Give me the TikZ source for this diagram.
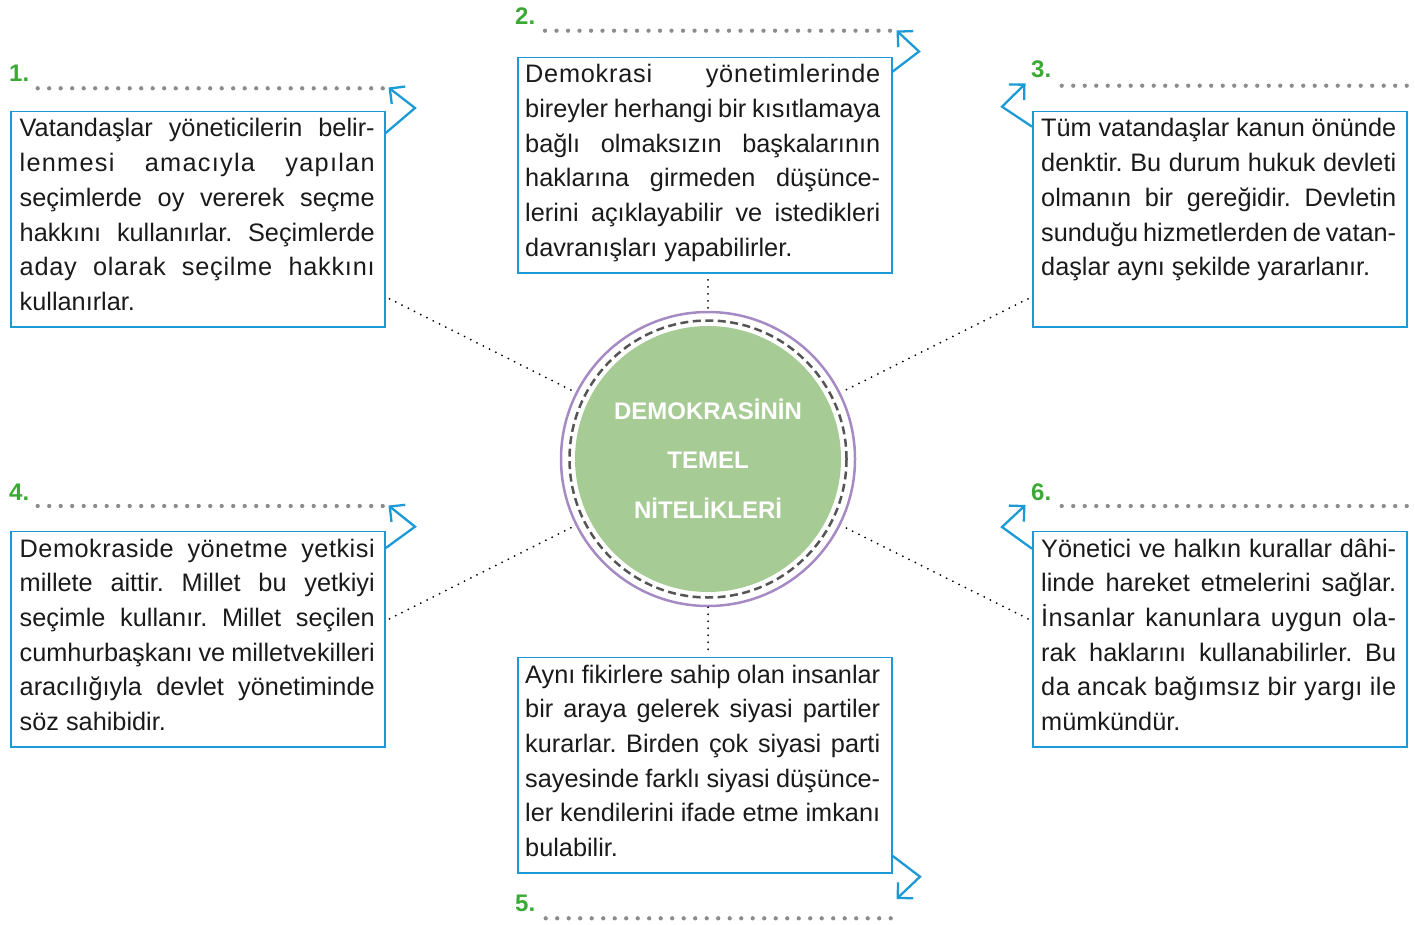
\documentclass[tikz,border=0pt]{standalone}
\usepackage{fontspec}
\setmainfont{Liberation Sans}
\usetikzlibrary{arrows.meta,calc}
\definecolor{bl}{HTML}{1C9AD6}
\definecolor{lgreen}{HTML}{3BAA35}
\definecolor{cfill}{HTML}{A6CB94}
\definecolor{pur}{HTML}{A68AC4}
\definecolor{dgr}{HTML}{555555}
\definecolor{gdot}{HTML}{8C8C8C}
\definecolor{txtc}{HTML}{1A1A1A}
\newcommand\jl[1]{\makebox[355pt][s]{#1}\\}
\newcommand\jls[2]{\makebox[355pt][s]{\addfontfeature{LetterSpace=#1}#2}\\}
\newcommand\rsp{\spaceskip=0pt\xspaceskip=0pt\frenchspacing}
\begin{document}
\begin{tikzpicture}[x=1pt,y=-1pt,
  box/.style={draw=bl, line width=1.5, minimum width=374, minimum height=215.6, anchor=north west, inner sep=0},
  txt/.style={anchor=base west, inner sep=0, text width=355, align=left, text=txtc,
    font=\fontsize{25.3}{34.74}\selectfont},
  num/.style={anchor=base west, inner sep=0, text=lgreen, font=\fontsize{24}{24}\selectfont\bfseries},
  ldots/.style={draw=gdot, line width=4.3, line cap=round, dash pattern=on 0pt off 11.5pt},
  arr/.style={draw=bl, line width=2.3, line join=miter, -{Straight Barb[length=11pt,width=22pt]}},
  conn/.style={draw=black, line width=2, line cap=round, dash pattern=on 0pt off 7pt},
]
\useasboundingbox (0,0) rectangle (1415,925);

% central circle
\fill[cfill] (708,459) circle[radius=133];
\node[circle, draw=pur, line width=2.5, minimum size=294, inner sep=0] (circ) at (708,459) {};
\draw[dgr, line width=2.5, dash pattern=on 8pt off 4.5pt] (circ.center) circle[radius=138.5];
\node[anchor=base, inner sep=0, text width=300, align=center, text=white,
  font=\fontsize{24}{49.6}\selectfont\bfseries] (ctitle) at (708,419)
  {DEMOKRASİNİN\\TEMEL\\NİTELİKLERİ};

% boxes
\node[box] (b1) at (10,110.7) {};
\node[box] (b2) at (517,56.7) {};
\node[box] (b3) at (1032,110.7) {};
\node[box] (b4) at (10,530.7) {};
\node[box] (b5) at (517,656.7) {};
\node[box] (b6) at (1032,530.7) {};

\node[txt] (t1) at (19.5,137) {\rsp\jl{Vatandaşlar yöneticilerin belir-}\jls{5}{lenmesi amacıyla yapılan}\jl{seçimlerde oy vererek seçme}\jl{hakkını kullanırlar. Seçimlerde}\jls{3}{aday olarak seçilme hakkını}kullanırlar.};
\node[txt] (t2) at (525,82.7) {\rsp\jls{3}{Demokrasi yönetimlerinde}\jl{bireyler herhangi bir kısıtlamaya}\jl{bağlı olmaksızın başkalarının}\jl{haklarına girmeden düşünce-}\jl{lerini açıklayabilir ve istedikleri}davranışları yapabilirler.};
\node[txt] (t3) at (1041,137) {\rsp\jl{Tüm vatandaşlar kanun önünde}\jl{denktir. Bu durum hukuk devleti}\jl{olmanın bir gereğidir. Devletin}\jl{sunduğu hizmetlerden de vatan-}daşlar aynı şekilde yararlanır.};
\node[txt] (t4) at (19.5,557) {\rsp\jls{2}{Demokraside yönetme yetkisi}\jl{millete aittir. Millet bu yetkiyi}\jl{seçimle kullanır. Millet seçilen}\jl{cumhurbaşkanı ve milletvekilleri}\jl{aracılığıyla devlet yönetiminde}söz sahibidir.};
\node[txt] (t5) at (525,683) {\rsp\jl{Aynı fikirlere sahip olan insanlar}\jl{bir araya gelerek siyasi partiler}\jl{kurarlar. Birden çok siyasi parti}\jl{sayesinde farklı siyasi düşünce-}\jl{ler kendilerini ifade etme imkanı}bulabilir.};
\node[txt] (t6) at (1041,557) {\rsp\jl{Yönetici ve halkın kurallar dâhi-}\jl{linde hareket etmelerini sağlar.}\jls{2}{İnsanlar kanunlara uygun ola-}\jl{rak haklarını kullanabilirler. Bu}\jls{2}{da ancak bağımsız bir yargı ile}mümkündür.};

% number labels
\node[num] (n1) at (9,81.5) {1.};
\node[num] (n2) at (515,25) {2.};
\node[num] (n3) at (1031,78) {3.};
\node[num] (n4) at (9,500.5) {4.};
\node[num] (n5) at (515,911.5) {5.};
\node[num] (n6) at (1031,500.5) {6.};

% dotted writing lines
\draw[ldots] (37.7,88.3) -- (382.7,88.3);
\draw[ldots] (545,30.7) -- (890,30.7);
\draw[ldots] (1061.7,85.7) -- (1406.7,85.7);
\draw[ldots] (37.7,506) -- (382.7,506);
\draw[ldots] (545.7,918.3) -- (890.7,918.3);
\draw[ldots] (1061.7,506) -- (1406.7,506);

% blue arrows
\draw[arr] ($(b1.north east)+(0,22.5)$) -- (415,108) -- (388.5,87.5);
\draw[arr] ($(b2.north east)+(0,15)$) -- (919,51.5) -- (896.5,30.5);
\draw[arr] ($(b3.north west)+(0,16)$) -- (1002,106.7) -- (1025.5,83.5);
\draw[arr] ($(b4.north east)+(0,17.5)$) -- (415,526.7) -- (388.5,505.5);
\draw[arr] ($(b5.south east)+(0,-18)$) -- (920,876.7) -- (896.5,899);
\draw[arr] ($(b6.north west)+(0,18)$) -- (1002,527) -- (1025.5,505);

% dotted connectors
\draw[conn] ($(b1.south east)+(4,-29)$) -- (circ);
\draw[conn] ($(b3.south west)+(-4,-29)$) -- (circ);
\draw[conn] ($(b4.south east)+(4,-129)$) -- (circ);
\draw[conn] ($(b6.south west)+(-4,-129)$) -- (circ);
\draw[conn] ($(b2.south -| circ.center)+(0,6)$) -- (circ.north);
\draw[conn] (circ.south) -- ($(b5.north -| circ.center)+(0,-5)$);
\end{tikzpicture}
\end{document}
